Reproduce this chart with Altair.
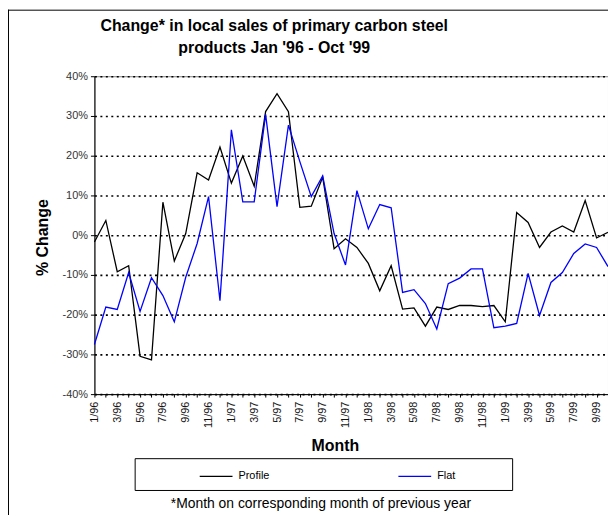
import altair as alt
import pandas as pd

months = [f"{m}/{y}" for y in ["96", "97", "98", "99"] for m in range(1, 13)][:46]

profile = [-1.7, 3.7, -9.2, -7.7, -30.5, -31.4, 8.3, -6.5, 0.4, 15.7,
           13.9, 22.2, 13.1, 19.9, 12.3, 31.1, 35.6, 31.1, 7.0, 7.3,
           14.6, -3.4, -0.9, -3.1, -7.1, -14.0, -7.7, -18.6, -18.3, -22.9,
           -18.1, -18.7, -17.7, -17.7, -18.0, -17.7, -21.8, 5.7, 3.2, -3.1,
           0.8, 2.3, 0.8, 8.7, -0.7, 0.7]

flat = [-27.5, -18.1, -18.7, -9.4, -19.2, -10.7, -15.2, -21.8, -10.6, -2.1,
        9.7, -16.5, 26.5, 8.4, 8.4, 30.4, 7.2, 27.7, 18.5, 9.7,
        14.9, 0.4, -7.5, 11.2, 1.6, 7.7, 6.9, -14.4, -13.7, -17.2,
        -23.6, -12.2, -10.8, -8.5, -8.5, -23.3, -22.9, -22.2, -9.6, -20.2,
        -11.9, -9.4, -4.6, -2.2, -3.1, -7.9]

series_names = ["Profile", "Flat"]
series_colors = ["#000000", "#0000FF"]
y_ticks = [-40, -30, -20, -10, 0, 10, 20, 30, 40]
title_lines = ["Change* in local sales of primary carbon steel", "products Jan '96 - Oct '99"]
footnote = "*Month on corresponding month of previous year"

rows = []
for i, m in enumerate(months):
    rows.append({"idx": i, "month": m, "series": "Profile", "value": profile[i]})
    rows.append({"idx": i, "month": m, "series": "Flat", "value": flat[i]})
df = pd.DataFrame(rows)
one = pd.DataFrame({"k": [0]})

FONT = "Liberation Sans"
label_array = "[" + ",".join(f"'{m}'" for m in months) + "]"

W, H = 517, 320

lines = alt.Chart(df).mark_line(strokeWidth=1.3).encode(
    x=alt.X("idx:Q", scale=alt.Scale(domain=[0, len(months) - 1], nice=False, zero=False),
            axis=alt.Axis(values=list(range(len(months))),
                          labelExpr=f"datum.value % 2 == 0 ? {label_array}[datum.value] : ''",
                          labelAngle=270, labelAlign="right", labelBaseline="middle",
                          labelFontSize=11, labelFont=FONT, labelColor="#111",
                          labelPadding=4, tickSize=3, tickColor="#000",
                          domainColor="#000", grid=False, labelOverlap=False,
                          title="Month", titleFontSize=16, titleFont=FONT,
                          titleFontWeight="bold", titleX=242, titleY=57,
                          titleBaseline="alphabetic", titleAlign="center")),
    y=alt.Y("value:Q", scale=alt.Scale(domain=[-40, 40], nice=False),
            axis=alt.Axis(values=y_ticks, labelExpr="datum.value + '%'",
                          labelFontSize=11, labelFont=FONT, labelColor="#333",
                          labelPadding=3, tickSize=4, tickColor="#000",
                          domainColor="#000", grid=True, gridColor="#000",
                          gridDash=[2, 3.5], gridWidth=1.6,
                          title="% Change", titleFontSize=16, titleFont=FONT,
                          titleFontWeight="bold", titleX=-52, titleY=162,
                          titleAngle=270, titleAlign="center", titleBaseline="middle")),
    color=alt.Color("series:N",
                    scale=alt.Scale(domain=series_names, range=series_colors),
                    legend=alt.Legend(orient="none", legendX=105, legendY=385,
                                      direction="horizontal", title=None,
                                      symbolType="stroke", symbolSize=1089,
                                      symbolStrokeWidth=1.3, labelOffset=5,
                                      labelFontSize=11, labelFont=FONT, labelColor="#000",
                                      columnPadding=126, padding=0)),
    order="idx:Q",
)

legend_box = alt.Chart(one).mark_rect(fill=None, stroke="#000", strokeWidth=1).encode(
    x=alt.value(41), x2=alt.value(421), y=alt.value(385), y2=alt.value(417)
)

foot = alt.Chart(one).mark_text(text=footnote, fontSize=14, font=FONT, align="center",
                                 baseline="alphabetic", color="#000").encode(
    x=alt.value(228), y=alt.value(435)
)

title = alt.Chart(one).mark_text(text=title_lines, fontSize=16, font=FONT, fontWeight="bold",
                                  align="center", baseline="alphabetic", lineHeight=23,
                                  color="#000").encode(
    x=alt.value(181), y=alt.value(-46)
)

outer_left = alt.Chart(one).mark_rule(color="#000", strokeWidth=1).encode(
    x=alt.value(-86.5), y=alt.value(-67), y2=alt.value(H + 130)
)
outer_top = alt.Chart(one).mark_rule(color="#000", strokeWidth=1).encode(
    x=alt.value(-87), x2=alt.value(W + 10), y=alt.value(-66.5)
)

chart = alt.layer(outer_left, outer_top, lines, legend_box, foot, title).properties(
    width=W, height=H,
    padding={"left": 87, "top": 67, "right": 0, "bottom": 120},
    autosize=alt.AutoSizeParams(type="none"),
).configure_view(stroke="#808080", strokeWidth=1)

chart.save("out.html", embed_options={"renderer": "svg", "actions": False})
